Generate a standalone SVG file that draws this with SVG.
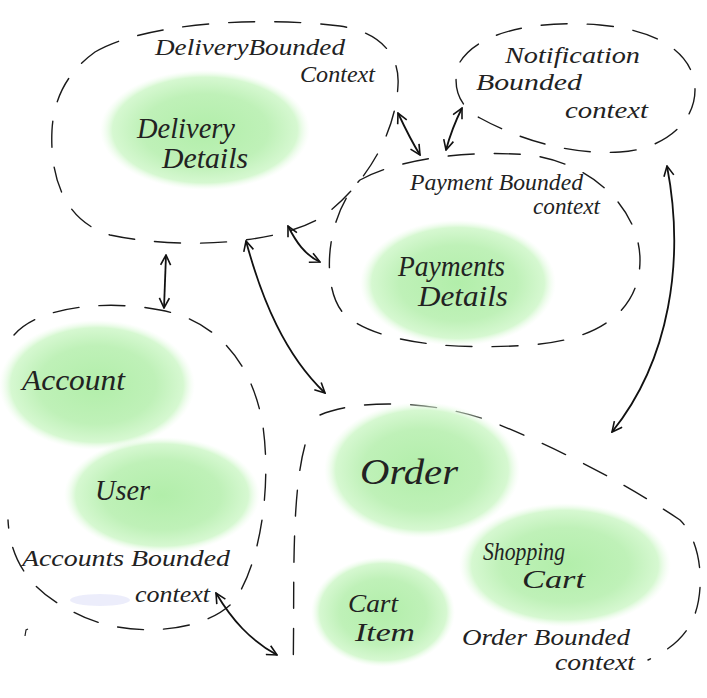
<svg xmlns="http://www.w3.org/2000/svg" width="707" height="698" viewBox="0 0 707 698">
<defs>
<radialGradient id="g" cx="50%" cy="50%" r="50%">
<stop offset="0" stop-color="#b2eeaa"/>
<stop offset="0.6" stop-color="#bff1b8"/>
<stop offset="0.88" stop-color="#d6f8d1"/>
<stop offset="1" stop-color="#eefcec" stop-opacity="0"/>
</radialGradient>
<marker id="ah" viewBox="0 0 12 12" refX="11" refY="6" markerWidth="12" markerHeight="12" markerUnits="userSpaceOnUse" orient="auto-start-reverse">
<path d="M1,1 L11,6 L1,11" fill="none" stroke="#111" stroke-width="1.6"/>
</marker>
</defs>
<style>
.ctx{fill:none;stroke:#1a1a1a;stroke-width:1.4;stroke-dasharray:26 20;stroke-linecap:round}
.blob{fill:url(#g)}
.t{font-family:"Liberation Serif",serif;font-style:italic;fill:#222}
.ct{font-size:23px}
.nt{font-size:29px}
.st{font-size:25px}
</style>
<rect width="707" height="698" fill="#fff"/>

<g id="delivery">
<path class="ctx" d="M95,52 C140,25 250,15 340,26 C380,32 400,55 398,85 C396,130 370,180 325,215 C280,245 180,250 110,235 C60,220 50,170 52,130 C54,95 70,70 95,52 Z"/>
<ellipse class="blob" cx="205" cy="130" rx="105" ry="60"/>
<text class="t ct" x="155" y="55" textLength="190" lengthAdjust="spacingAndGlyphs">DeliveryBounded</text>
<text class="t ct" x="300" y="82" textLength="75" lengthAdjust="spacingAndGlyphs">Context</text>
<text class="t nt" x="137" y="138" textLength="98" lengthAdjust="spacingAndGlyphs">Delivery</text>
<text class="t nt" x="162" y="168" textLength="86" lengthAdjust="spacingAndGlyphs">Details</text>
</g>

<g id="notification">
<path class="ctx" d="M460,62 C480,30 540,20 600,25 C660,30 695,55 695,90 C695,125 660,150 620,152 C570,155 520,140 480,118 C455,105 452,80 460,62 Z"/>
<text class="t ct" x="505" y="63" textLength="135" lengthAdjust="spacingAndGlyphs">Notification</text>
<text class="t ct" x="476" y="90" textLength="106" lengthAdjust="spacingAndGlyphs">Bounded</text>
<text class="t ct" x="565" y="118" textLength="83" lengthAdjust="spacingAndGlyphs">context</text>
</g>

<g id="payment">
<path class="ctx" d="M360,180 C400,158 470,150 530,155 C600,165 640,215 640,260 C640,310 600,340 530,345 C460,350 380,345 345,315 C320,290 325,215 360,180 Z"/>
<ellipse class="blob" cx="458" cy="283" rx="98" ry="63"/>
<text class="t ct" x="410" y="190" textLength="173" lengthAdjust="spacingAndGlyphs">Payment Bounded</text>
<text class="t ct" x="533" y="214" textLength="67" lengthAdjust="spacingAndGlyphs">context</text>
<text class="t nt" x="398" y="276" textLength="107" lengthAdjust="spacingAndGlyphs">Payments</text>
<text class="t nt" x="418" y="306" textLength="90" lengthAdjust="spacingAndGlyphs">Details</text>
</g>

<g id="accounts">
<path class="ctx" d="M14,335 C40,305 110,300 160,310 C215,320 250,360 262,420 C272,480 262,560 235,600 C205,635 120,640 70,610 C30,590 10,560 8,520"/>
<ellipse class="blob" cx="97" cy="385" rx="98" ry="65"/>
<ellipse class="blob" cx="162" cy="495" rx="98" ry="58"/>
<ellipse cx="100" cy="600" rx="30" ry="6" fill="#e4e6fa" opacity="0.7"/>
<path d="M25,636 L26,630 L28,629" fill="none" stroke="#222" stroke-width="1.2"/>
<text class="t nt" x="22" y="390" textLength="103" lengthAdjust="spacingAndGlyphs">Account</text>
<text class="t nt" x="95" y="500" textLength="55" lengthAdjust="spacingAndGlyphs">User</text>
<text class="t ct" x="22" y="566" textLength="208" lengthAdjust="spacingAndGlyphs">Accounts Bounded</text>
<text class="t ct" x="135" y="602" textLength="75" lengthAdjust="spacingAndGlyphs">context</text>
</g>

<g id="order">
<path class="ctx" d="M320,415 C360,398 440,400 500,425 C560,450 620,480 680,520 C705,545 705,600 690,625 C680,642 665,652 648,660 M305,445 C290,500 295,600 293,672"/>
<ellipse class="blob" cx="422" cy="470" rx="98" ry="68"/>
<ellipse class="blob" cx="565" cy="565" rx="106" ry="62"/>
<ellipse class="blob" cx="383" cy="612" rx="72" ry="55"/>
<text class="t" x="360" y="484" font-size="36" textLength="98" lengthAdjust="spacingAndGlyphs">Order</text>
<text class="t st" x="483" y="560" textLength="82" lengthAdjust="spacingAndGlyphs">Shopping</text>
<text class="t st" x="522" y="588" textLength="63" lengthAdjust="spacingAndGlyphs">Cart</text>
<text class="t st" x="348" y="612" textLength="50" lengthAdjust="spacingAndGlyphs">Cart</text>
<text class="t st" x="355" y="641" textLength="60" lengthAdjust="spacingAndGlyphs">Item</text>
<text class="t ct" x="462" y="645" textLength="168" lengthAdjust="spacingAndGlyphs">Order Bounded</text>
<text class="t ct" x="555" y="670" textLength="80" lengthAdjust="spacingAndGlyphs">context</text>
</g>

<g id="connectors" fill="none" stroke="#111" stroke-width="1.8" marker-start="url(#ah)" marker-end="url(#ah)">
<path d="M398,113 C405,128 412,142 420,155"/>
<path d="M462,108 C455,122 450,135 446,150"/>
<path d="M166,255 L164,308"/>
<path d="M288,226 C296,242 305,255 320,262"/>
<path d="M246,241 C262,300 285,355 325,393"/>
<path d="M667,166 C685,260 670,360 612,432"/>
<path d="M216,593 C232,620 250,640 277,655"/>
</g>
</svg>
